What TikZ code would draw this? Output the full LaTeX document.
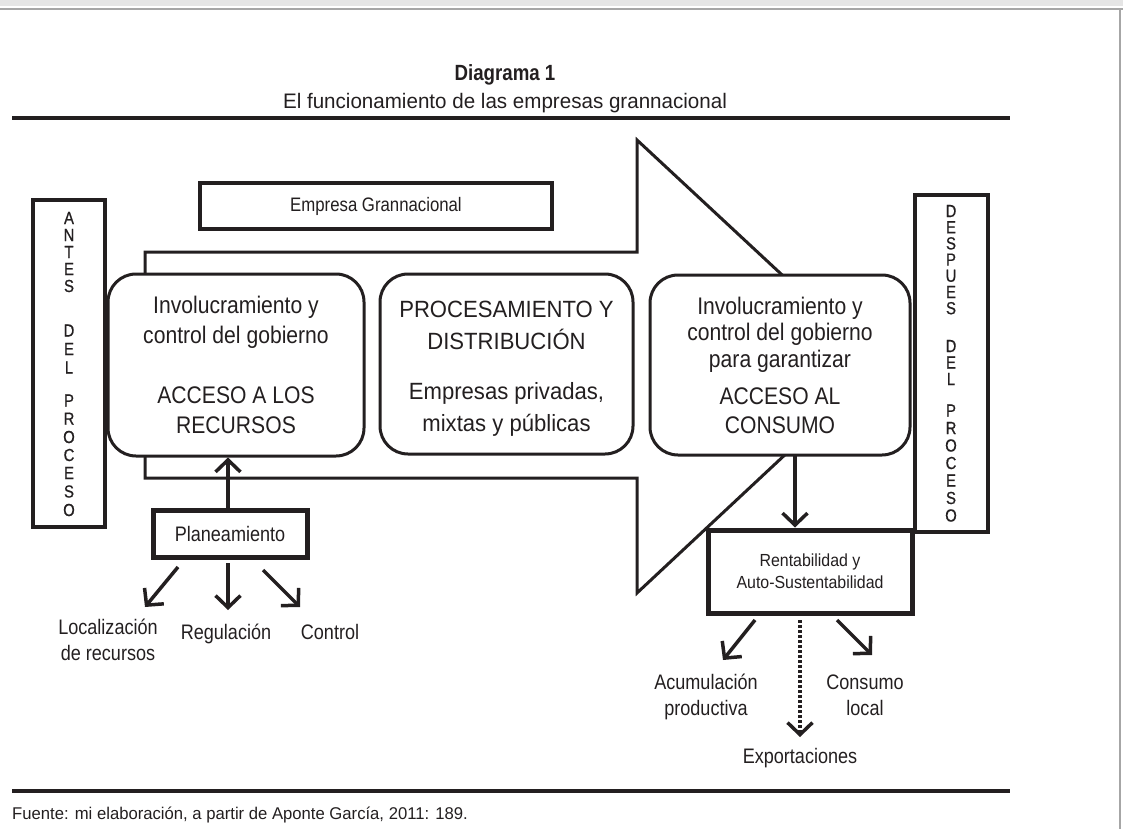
\documentclass[tikz,border=0pt]{standalone}
\usepackage{fontspec}
\setmainfont{Liberation Sans}[FakeStretch=0.88]
\newfontfamily\boxfont{Liberation Sans}[FakeStretch=0.88]
\newfontfamily\widefont{Liberation Sans}[FakeStretch=0.94]
\newfontfamily\plainfont{Liberation Sans}[FakeStretch=0.98]
\newfontfamily\lblfont{Liberation Sans}[FakeStretch=0.86]
\newfontfamily\rentfont{Liberation Sans}[FakeStretch=0.91]
\newfontfamily\vertfont{Liberation Sans}[FakeStretch=0.85,FakeBold=0.7]
\newfontfamily\titlefont{Liberation Sans}[FakeStretch=0.85]
\usetikzlibrary{arrows.meta}
\definecolor{ink}{HTML}{231F20}
\tikzset{
  rbox/.style={draw=ink, line width=3pt, rounded corners=28pt, fill=white, inner sep=0pt, align=center, text=ink},
  sqbox/.style={draw=ink, line width=4.5pt, fill=white, inner sep=0pt, align=center, text=ink},
  arr/.style={draw=ink, line width=3.5pt, -{Straight Barb[length=12pt,width=25pt,line width=3.5pt]}},
  darr/.style={arr, dash pattern=on 3pt off 2pt},
  lbl/.style={align=center, inner sep=0pt, text=ink},
  vlet/.style={inner sep=0pt, text=ink, font=\vertfont\fsz{17.5}{17.5}},
  rule/.style={draw=ink, line width=4pt},
}
\newcommand\fsz[2]{\fontsize{#1}{#2}\selectfont}
\begin{document}
\begin{tikzpicture}[x=1pt,y=-1pt]
\useasboundingbox (0,0) rectangle (1123,829);
% page frame
\fill[gray!20] (0,0) rectangle (1123,6);
\draw[gray!70, line width=2pt] (0,9) -- (1123,9);
\draw[gray!70, line width=2pt] (1120,9) -- (1120,829);
% titles and rules
\node[lbl, font=\titlefont\fsz{22}{26}\bfseries] (title) at (505,75) {Diagrama 1};
\node[lbl, font=\plainfont\fsz{21}{24}] (subtitle) at (505,103) {El funcionamiento de las empresas grannacional};
\draw[rule] (12,118) -- (1010,118);
\draw[rule] (12,791) -- (1010,791);
\node[lbl, anchor=west, font=\plainfont\fsz{17}{19}] (fuente) at (12,815) {Fuente: mi elaboración, a partir de Aponte García, 2011: 189.};
% big arrow
\draw[draw=ink, line width=3pt, line join=miter] (145,252) -- (637,252) -- (637,140) -- (880,366) -- (637,593) -- (637,478) -- (145,478) -- cycle;
% side boxes
\node[sqbox, minimum width=72pt, minimum height=327pt] (antes) at (69,363.5) {};
\foreach \l/\yy [count=\i] in {A/218,N/235,T/252,E/269,S/286,D/330.5,E/349,L/367.5,P/400.5,R/418.7,O/437,C/455,E/473,S/491.5,O/510}
  \node[vlet] (antes\i) at (69,\yy) {\l};
\node[sqbox, minimum width=73pt, minimum height=337pt] (despues) at (951.5,363.5) {};
\foreach \l/\yy [count=\i] in {D/211,E/227.2,S/243.4,P/259.6,U/275.8,E/292,S/308.2,D/346,E/362.5,L/379,P/410.5,R/428,O/445.5,C/463,E/480.5,S/498,O/515.5}
  \node[vlet] (desp\i) at (951,\yy) {\l};
\node[sqbox, minimum width=352pt, minimum height=46pt, font=\lblfont\fsz{19.5}{21}] (empresa) at (376,206) {Empresa Grannacional};
% main boxes
\node[rbox, minimum width=256pt, minimum height=182pt, font=\boxfont\fsz{24}{30}] (box1) at (236,365)
  {Involucramiento y\\control del gobierno\\~\\ACCESO A LOS\\RECURSOS};
\node[rbox, minimum width=253pt, minimum height=180pt] (box2) at (506.5,364) {};
\node[lbl, font=\widefont\fsz{23.5}{32}] (box2t) at (506.5,369)
  {PROCESAMIENTO Y\\DISTRIBUCIÓN\\[18pt]Empresas privadas,\\mixtas y públicas};
\node[rbox, minimum width=260pt, minimum height=180pt, font=\boxfont\fsz{24}{26.5}] (box3) at (780,365)
  {Involucramiento y\\control del gobierno\\para garantizar\\[11pt]ACCESO AL\\[2pt]CONSUMO};
% lower boxes
\node[sqbox, line width=5pt, minimum width=154pt, minimum height=47pt, font=\lblfont\fsz{21}{23}] (plan) at (230,533.5) {Planeamiento};
\node[sqbox, line width=5pt, minimum width=204pt, minimum height=83pt, font=\rentfont\fsz{17.5}{22}] (rent) at (810,571.5) {Rentabilidad y\\Auto-Sustentabilidad};
% labels
\node[lbl, font=\lblfont\fsz{21}{26}] (loc) at (108,640) {Localización\\de recursos};
\node[lbl, font=\lblfont\fsz{21}{26}] (reg) at (226,634) {Regulación};
\node[lbl, font=\lblfont\fsz{21}{26}] (ctrl) at (330,632) {Control};
\node[lbl, font=\lblfont\fsz{21}{26}] (acum) at (706,697) {Acumulación\\productiva};
\node[lbl, font=\lblfont\fsz{21}{26}] (cons) at (865,695) {Consumo\\local};
\node[lbl, font=\lblfont\fsz{21}{26}] (expo) at (800,758) {Exportaciones};
% connectors
\coordinate (p0) at (228,510);
\draw[arr] (p0) -- (p0 |- box1.south);
\coordinate (b3) at (795,456);
\draw[arr] (b3) -- (b3 |- rent.north);
\coordinate (pl1) at (178,567); \coordinate (pl2) at (145,607);
\coordinate (pm1) at (228,563); \coordinate (pm2) at (228,610);
\coordinate (pr1) at (263,570); \coordinate (pr2) at (300,607);
\draw[arr] (pl1) -- (pl2);
\draw[arr] (pm1) -- (pm2);
\draw[arr] (pr1) -- (pr2);
\coordinate (rl1) at (755,620); \coordinate (rl2) at (723,660);
\coordinate (rm1) at (800,620); \coordinate (rm2) at (800,737);
\coordinate (rr1) at (837,620); \coordinate (rr2) at (872,655);
\draw[arr] (rl1) -- (rl2);
\draw[darr] (rm1) -- (rm2);
\draw[arr] (rr1) -- (rr2);
\end{tikzpicture}
\end{document}
